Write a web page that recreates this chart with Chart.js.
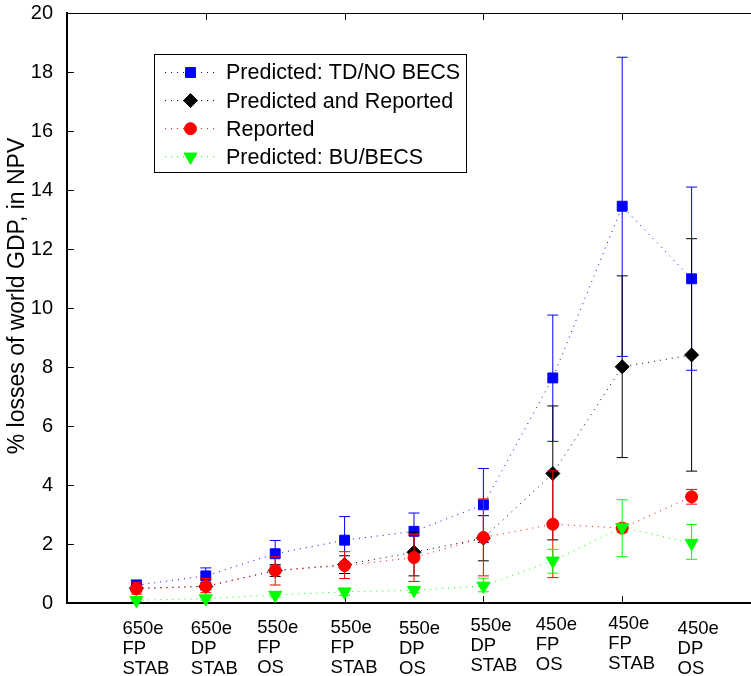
<!DOCTYPE html>
<html>
<head>
<meta charset="utf-8">
<script src="https://cdn.jsdelivr.net/npm/chart.js@4.4.0/dist/chart.umd.min.js"></script>
<style>
    html, body { margin: 0; padding: 0; background: #fff; overflow: hidden; }
    /* la figura original esta recortada a la derecha: el eje x llega a 10 fuera de la ventana */
    #contenedor { width: 751px; height: 676px; overflow: hidden; }
    canvas { display: block; }
</style>
</head>
<body>
<div id="contenedor"><canvas id="grafico" width="761" height="676"></canvas></div>
<script>
// posiciones en el eje x y etiquetas de cada escenario
const posiciones = [1, 2, 3, 4, 5, 6, 7, 8, 9];
const escenarios = [
    ["650e", "FP", "STAB"],
    ["650e", "DP", "STAB"],
    ["550e", "FP", "OS"],
    ["550e", "FP", "STAB"],
    ["550e", "DP", "OS"],
    ["550e", "DP", "STAB"],
    ["450e", "FP", "OS"],
    ["450e", "FP", "STAB"],
    ["450e", "DP", "OS"]
];
const ticksY = [0, 2, 4, 6, 8, 10, 12, 14, 16, 18, 20];
const ticksX = [0, 2, 4, 6, 8];

// Predicted: TD/NO BECS
const tdValor = [0.60, 0.92, 1.67, 2.13, 2.43, 3.33, 7.63, 13.45, 10.99];
const tdBajo  = [0.45, 0.62, 1.25, 1.35, 1.77, 2.05, 5.48, 8.36, 7.89];
const tdAlto  = [0.78, 1.19, 2.12, 2.93, 3.05, 4.56, 9.76, 18.50, 14.10];

// Predicted and Reported
const prValor = [0.50, 0.56, 1.10, 1.30, 1.72, 2.20, 4.39, 8.01, 8.41];
const prBajo  = [0.40, 0.45, 0.90, 1.00, 0.92, 1.43, 2.14, 4.93, 4.47];
const prAlto  = [0.60, 0.70, 1.30, 1.60, 2.40, 2.96, 6.68, 11.09, 12.35];

// Reported
const repValor = [0.48, 0.57, 1.10, 1.27, 1.54, 2.22, 2.67, 2.54, 3.60];
const repBajo  = [0.30, 0.35, 0.61, 0.83, 0.73, 0.92, 0.86, 2.40, 3.35];
const repAlto  = [0.70, 0.83, 1.57, 1.74, 2.33, 3.53, 4.48, 2.70, 3.85];

// Predicted: BU/BECS
const buValor = [0.09, 0.15, 0.27, 0.38, 0.43, 0.58, 1.43, 2.56, 2.03];
const buBajo  = [0.05, 0.10, 0.20, 0.26, 0.35, 0.38, 1.01, 1.57, 1.48];
const buAlto  = [0.12, 0.20, 0.35, 0.50, 0.50, 0.84, 1.82, 3.50, 2.66];

const tituloY = '% losses of world GDP, in NPV';
const fuente = '"Liberation Sans", Arial, Helvetica, sans-serif';

function puntos(valores) {
    return posiciones.map((x, i) => ({ x: x, y: valores[i] }));
}

function serie(label, valores, bajo, alto, color, estilo, radio, rotacion, orden) {
    return {
        label: label,
        data: puntos(valores),
        bajo: bajo,
        alto: alto,
        showLine: true,
        borderColor: color,
        backgroundColor: color,
        borderWidth: 1,
        borderDash: [1, 5],
        pointStyle: estilo,
        pointRadius: radio,
        pointRotation: rotacion,
        pointBorderWidth: 1,
        pointBorderColor: color,
        pointBackgroundColor: color,
        clip: false,
        order: orden
    };
}

// barras de error, dibujadas justo antes de cada serie
const barrasError = {
    id: 'barrasError',
    beforeDatasetDraw(chart, args) {
        const ds = chart.data.datasets[args.index];
        const sx = chart.scales.x, sy = chart.scales.y;
        const ctx = chart.ctx;
        ctx.save();
        ctx.strokeStyle = ds.borderColor;
        ctx.lineWidth = 1;
        ds.bajo.forEach((lo, i) => {
            const px = sx.getPixelForValue(posiciones[i]);
            const pl = sy.getPixelForValue(lo);
            const ph = sy.getPixelForValue(ds.alto[i]);
            ctx.beginPath();
            ctx.moveTo(px, pl); ctx.lineTo(px, ph);
            ctx.moveTo(px - 5.5, pl); ctx.lineTo(px + 5.5, pl);
            ctx.moveTo(px - 5.5, ph); ctx.lineTo(px + 5.5, ph);
            ctx.stroke();
        });
        ctx.restore();
    }
};

// marco superior, marcas hacia adentro y titulo del eje y
const ejes = {
    id: 'ejes',
    beforeDatasetsDraw(chart) {
        const ctx = chart.ctx, a = chart.chartArea;
        const sx = chart.scales.x, sy = chart.scales.y;
        ctx.save();
        ctx.strokeStyle = '#000';
        ctx.lineWidth = 1;
        ctx.beginPath();
        ctx.moveTo(a.left, a.top + 0.5); ctx.lineTo(a.right, a.top + 0.5);
        ticksY.forEach(v => {
            const py = Math.round(sy.getPixelForValue(v)) + 0.5;
            ctx.moveTo(a.left, py); ctx.lineTo(a.left + 7, py);
        });
        ticksX.forEach(v => {
            const px = Math.round(sx.getPixelForValue(v)) + 0.5;
            ctx.moveTo(px, a.bottom); ctx.lineTo(px, a.bottom - 7);
            ctx.moveTo(px, a.top); ctx.lineTo(px, a.top + 7);
        });
        ctx.stroke();

        ctx.translate(18, 296);
        ctx.rotate(-Math.PI / 2);
        ctx.fillStyle = '#000';
        ctx.font = '23px ' + fuente;
        ctx.textAlign = 'center';
        ctx.textBaseline = 'middle';
        ctx.fillText(tituloY, 0, 0);
        ctx.restore();
    }
};

// etiquetas de varias lineas bajo el eje x
const desplazaX = [-14, -15, -18, -14, -15, -13, -17, -14, -14];
const desplazaY = [0, 0, -1, -1, 0, -3, -4, -5, 0];
const etiquetasX = {
    id: 'etiquetasX',
    afterDraw(chart) {
        const ctx = chart.ctx, sx = chart.scales.x;
        ctx.save();
        ctx.fillStyle = '#000';
        ctx.font = '18.5px ' + fuente;
        ctx.textAlign = 'left';
        ctx.textBaseline = 'alphabetic';
        escenarios.forEach((lineas, i) => {
            const px = sx.getPixelForValue(posiciones[i]) + desplazaX[i];
            lineas.forEach((t, j) => ctx.fillText(t, px, 634 + j * 20 + desplazaY[i]));
        });
        ctx.restore();
    }
};

// leyenda con recuadro dentro del area
const leyenda = {
    id: 'leyenda',
    afterDraw(chart) {
        const ctx = chart.ctx;
        const caja = { x: 154.5, y: 54.5, w: 312, h: 118 };
        ctx.save();
        ctx.fillStyle = '#fff';
        ctx.fillRect(caja.x, caja.y, caja.w, caja.h);
        ctx.strokeStyle = '#000';
        ctx.lineWidth = 1;
        ctx.strokeRect(caja.x, caja.y, caja.w, caja.h);
        ctx.font = '21.5px ' + fuente;
        ctx.textBaseline = 'middle';
        ctx.textAlign = 'left';
        chart.data.datasets.forEach((ds, i) => {
            const py = 72.5 + i * 28.1;
            ctx.strokeStyle = ds.borderColor;
            ctx.setLineDash(ds.borderDash);
            ctx.beginPath();
            ctx.moveTo(165, py); ctx.lineTo(216, py);
            ctx.stroke();
            ctx.setLineDash([]);
            ctx.fillStyle = ds.backgroundColor;
            Chart.helpers.drawPoint(ctx, {
                pointStyle: ds.pointStyle,
                rotation: ds.pointRotation,
                radius: ds.pointRadius,
                borderWidth: 1
            }, 190.5, py);
            ctx.fillStyle = '#000';
            ctx.fillText(ds.label, 226, py + 1);
        });
        ctx.restore();
    }
};

const grafico = document.getElementById('grafico').getContext('2d');
new Chart(grafico, {
    type: 'scatter',
    data: {
        datasets: [
            serie('Predicted: TD/NO BECS', tdValor, tdBajo, tdAlto, '#0000ff', 'rect', 7, 0, 4),
            serie('Predicted and Reported', prValor, prBajo, prAlto, '#000000', 'rectRot', 7, 0, 3),
            serie('Reported', repValor, repBajo, repAlto, '#ff0000', 'circle', 6, 0, 2),
            serie('Predicted: BU/BECS', buValor, buBajo, buAlto, '#00ff00', 'triangle', 7.5, 180, 1)
        ]
    },
    options: {
        responsive: false,
        animation: false,
        devicePixelRatio: 1,
        layout: { autoPadding: false, padding: { top: 13, right: 0, left: 0, bottom: 0 } },
        plugins: {
            legend: { display: false },
            tooltip: { enabled: false }
        },
        scales: {
            x: {
                type: 'linear',
                min: 0,
                max: 10,
                ticks: { display: false },
                grid: { display: false },
                border: { display: true, color: '#000', width: 2 },
                afterFit(s) { s.height = 73; }
            },
            y: {
                min: 0,
                max: 20,
                ticks: { stepSize: 2, color: '#000', padding: 6, font: { size: 20, family: fuente } },
                grid: { display: false },
                border: { display: true, color: '#000', width: 2 },
                // sin relleno extra arriba: el 20 queda en la fila 13
                afterFit(s) { s.width = 67; s.paddingTop = 0; s.paddingBottom = 0; }
            }
        }
    },
    plugins: [barrasError, ejes, etiquetasX, leyenda]
});
</script>
</body>
</html>
